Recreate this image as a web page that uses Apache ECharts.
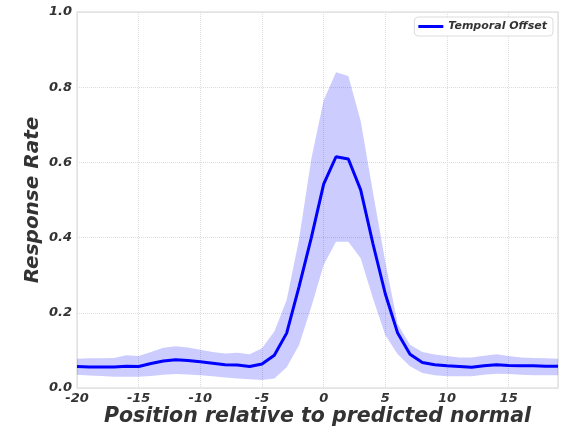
<!DOCTYPE html>
<html>
<head>
<meta charset="utf-8">
<script src="https://cdn.jsdelivr.net/npm/echarts@6/dist/echarts.min.js"></script>
<style>
  html, body { margin: 0; padding: 0; background: #fff; }
  #chart { width: 563px; height: 430px; }
</style>
</head>
<body>
<div id="chart"></div>
<script>
// Offsets from the predicted normal position
const positions = [];
for (let p = -20; p <= 19; p++) positions.push(p);

// Mean response rate per offset
const meanRate = [
  0.057, 0.056, 0.056, 0.056, 0.058, 0.057, 0.065, 0.072, 0.075, 0.073,
  0.070, 0.066, 0.062, 0.061, 0.057, 0.064, 0.087, 0.146, 0.269, 0.400,
  0.542, 0.615, 0.609, 0.527, 0.383, 0.250, 0.146, 0.090, 0.068, 0.062,
  0.059, 0.057, 0.055, 0.059, 0.062, 0.060, 0.059, 0.059, 0.058, 0.058
];

// Upper edge of the spread band
const upperRate = [
  0.078, 0.079, 0.079, 0.080, 0.087, 0.085, 0.096, 0.107, 0.111, 0.108,
  0.102, 0.096, 0.092, 0.094, 0.090, 0.106, 0.150, 0.234, 0.395, 0.610,
  0.765, 0.840, 0.830, 0.710, 0.520, 0.335, 0.170, 0.115, 0.096, 0.089,
  0.085, 0.081, 0.081, 0.086, 0.090, 0.085, 0.081, 0.080, 0.079, 0.078
];

// Lower edge of the spread band
const lowerRate = [
  0.035, 0.033, 0.032, 0.030, 0.030, 0.030, 0.032, 0.035, 0.037, 0.036,
  0.034, 0.031, 0.028, 0.025, 0.023, 0.021, 0.025, 0.055, 0.114, 0.216,
  0.327, 0.389, 0.389, 0.345, 0.238, 0.140, 0.090, 0.058, 0.040, 0.034,
  0.031, 0.031, 0.031, 0.035, 0.038, 0.037, 0.035, 0.034, 0.034, 0.034
];

const yTicks = [0.0, 0.2, 0.4, 0.6, 0.8, 1.0];

const FONT = 'DejaVu Sans';
const textDark = '#333333';

const pairs = (ys) => positions.map((x, i) => [x, ys[i]]);
const bandRows = positions.map((x, i) => [x, lowerRate[i], upperRate[i]]);

// Shaded spread: one polygon along the upper edge and back along the lower edge
function renderBand(params, api) {
  if (params.dataIndex !== 0) return null;
  const top = bandRows.map(r => api.coord([r[0], r[2]]));
  const bottom = bandRows.map(r => api.coord([r[0], r[1]])).reverse();
  return {
    type: 'polygon',
    shape: { points: top.concat(bottom) },
    style: { fill: 'rgba(0,0,255,0.2)', stroke: null },
    silent: true
  };
}

const chart = echarts.init(document.getElementById('chart'), null, { renderer: 'canvas' });

chart.setOption({
  animation: false,
  backgroundColor: '#ffffff',
  grid: {
    left: 77, right: 5, top: 12, bottom: 42,
    outerBoundsMode: 'none', containLabel: false,
    show: true, borderColor: '#e3e3e3', borderWidth: 1.5
  },
  legend: {
    data: ['Temporal Offset'],
    right: 10, top: 17,
    icon: 'rect', itemWidth: 25, itemHeight: 3,
    backgroundColor: '#ffffff',
    borderColor: '#dcdcdc', borderWidth: 1, borderRadius: 4,
    padding: [4, 6, 4, 4],
    textStyle: { fontFamily: FONT, fontStyle: 'italic', fontWeight: 'bold', fontSize: 11, color: textDark }
  },
  xAxis: {
    type: 'value',
    min: -20, max: 19, interval: 5,
    name: 'Position relative to predicted normal',
    nameLocation: 'middle', nameGap: 19, nameMoveOverlap: false,
    nameTextStyle: { fontFamily: FONT, fontStyle: 'italic', fontWeight: 'bold', fontSize: 20.5, color: textDark, verticalAlign: 'top' },
    axisLine: { show: false },
    axisTick: { show: false },
    axisLabel: {
      showMaxLabel: false, margin: 4,
      fontFamily: FONT, fontStyle: 'italic', fontWeight: 'bold', fontSize: 13, color: textDark
    },
    splitLine: { show: true, lineStyle: { color: '#dddddd', type: 'dotted', width: 1 } }
  },
  yAxis: {
    type: 'value',
    min: 0, max: 1, interval: 0.2,
    name: 'Response Rate',
    nameLocation: 'middle', nameGap: 34, nameMoveOverlap: false,
    nameTextStyle: { fontFamily: FONT, fontStyle: 'italic', fontWeight: 'bold', fontSize: 20, color: textDark },
    axisLine: { show: false },
    axisTick: { show: false },
    axisLabel: {
      margin: 5,
      fontFamily: FONT, fontStyle: 'italic', fontWeight: 'bold', fontSize: 13, color: textDark,
      formatter: (v) => {
        const t = yTicks.find(k => Math.abs(k - v) < 1e-9);
        return (t !== undefined ? t : v).toFixed(1);
      }
    },
    splitLine: { show: true, lineStyle: { color: '#dddddd', type: 'dotted', width: 1 } }
  },
  series: [
    {
      name: 'spread', type: 'custom',
      renderItem: renderBand,
      data: bandRows,
      encode: { x: 0, y: [1, 2] },
      clip: true,
      silent: true,
      z: 1
    },
    {
      name: 'Temporal Offset', type: 'line',
      data: pairs(meanRate),
      symbol: 'none',
      color: '#0000ff',
      lineStyle: { color: '#0000ff', width: 3 },
      z: 3
    }
  ]
});
</script>
</body>
</html>
